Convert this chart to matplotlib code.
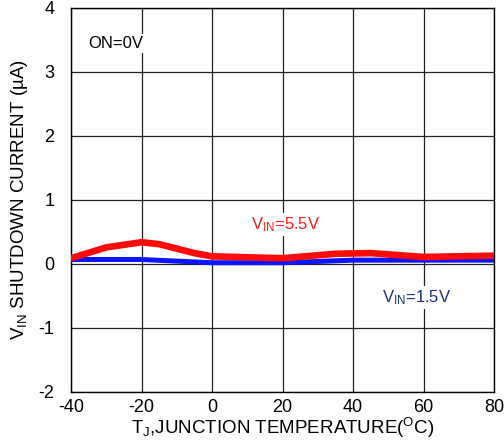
import numpy as np
import matplotlib
matplotlib.use('Agg')
import matplotlib.pyplot as plt

plt.rcParams['font.family'] = ['Liberation Sans', 'DejaVu Sans']
plt.rcParams['mathtext.fontset'] = 'custom'
plt.rcParams['mathtext.rm'] = 'Liberation Sans'
plt.rcParams['mathtext.it'] = 'Liberation Sans'
plt.rcParams['axes.unicode_minus'] = False

# data
temp_55 = [-40, -30, -20, -15, -5, 0, 20, 35, 45, 60, 80]
curr_55 = [0.09, 0.26, 0.34, 0.31, 0.17, 0.12, 0.09, 0.16, 0.17, 0.11, 0.13]
temp_15 = [-40, -20, 0, 20, 40, 60, 80]
curr_15 = [0.07, 0.07, 0.02, 0.02, 0.06, 0.06, 0.06]

xticks = [-40, -20, 0, 20, 40, 60, 80]
yticks = [-2, -1, 0, 1, 2, 3, 4]

fig = plt.figure(figsize=(5.04, 4.41), dpi=100)
ax = fig.add_axes([71/504, 1 - 392/441, (494 - 71)/504, (392 - 8)/441])

ax.plot(temp_15, curr_15, color='#0a14ff', linewidth=3.6, solid_capstyle='round', zorder=3)
ax.plot(temp_55, curr_55, color='#ff0a0a', linewidth=4.8, solid_capstyle='round',
        solid_joinstyle='round', zorder=4)

ax.set_xlim(-40, 80)
ax.set_ylim(-2, 4)
ax.set_xticks(xticks)
ax.set_yticks(yticks)
ax.tick_params(length=0, labelsize=13)
ax.tick_params(axis='x', pad=5)
ax.tick_params(axis='y', pad=12)
ax.grid(True, color='#222222', linewidth=0.9)
for s in ax.spines.values():
    s.set_color('black')
    s.set_linewidth(1.0)

bb = dict(facecolor='white', edgecolor='none', pad=1.5)
ax.text(-35, 3.44, 'ON=0V', fontsize=12, color='black', va='center', ha='left', bbox=bb, zorder=5)
ax.text(21, 0.62, r'V$_{\mathrm{IN}}$=5.5V', fontsize=12, color='#ff1a1a', va='center', ha='center', bbox=bb, zorder=5)
ax.text(58, -0.52, r'V$_{\mathrm{IN}}$=1.5V', fontsize=12, color='#1a2f80', va='center', ha='center', bbox=bb, zorder=5)

ax.set_xlabel(r'T$_{\mathrm{J}}$,JUNCTION TEMPERATURE($^{\mathrm{O}}$C)', fontsize=13.5, labelpad=0)
ax.set_ylabel(r'V$_{\mathrm{IN}}$ SHUTDOWN CURRENT (µA)', fontsize=13.5, labelpad=6)

fig.savefig('out.png', dpi=100)
